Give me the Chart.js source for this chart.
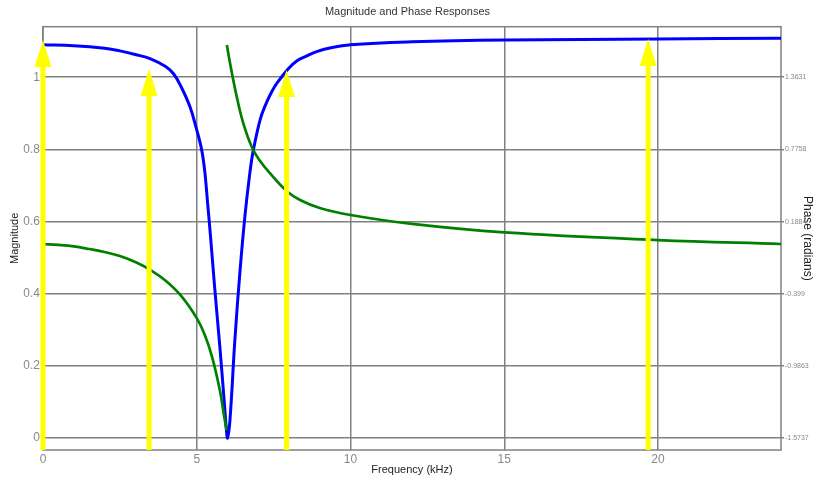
<!DOCTYPE html>
<html>
<head>
<meta charset="utf-8">
<script src="https://cdn.jsdelivr.net/npm/chart.js@4.4.1/dist/chart.umd.min.js"></script>
<style>
  body { margin: 0; background: #fff; }
</style>
</head>
<body>
<canvas id="chart" width="815" height="478"></canvas>
<script>
// magnitude response (blue)
const magFreq = [0, 1, 2, 2.5, 3, 3.5, 4, 4.25, 4.46, 4.78, 5.0, 5.07, 5.14, 5.2, 5.27, 5.35, 5.43, 5.59, 5.76, 5.89, 5.97, 6.0,
  6.08, 6.24, 6.41, 6.57, 6.73, 6.84, 7.06, 7.22, 7.38, 7.54, 7.71, 7.97, 8.25, 8.58, 8.9, 9.33, 10, 12, 15, 20, 24]
const magnitude = [1.090, 1.087, 1.080, 1.073, 1.063, 1.051, 1.029, 1.009, 0.979, 0.918, 0.854, 0.832, 0.807, 0.779, 0.732, 0.654, 0.577, 0.410, 0.244, 0.105, 0.017, 0,
  0.050, 0.272, 0.466, 0.618, 0.737, 0.798, 0.882, 0.920, 0.950, 0.975, 0.995, 1.023, 1.045, 1.059, 1.071, 1.081, 1.090, 1.098, 1.103, 1.106, 1.108]

// phase response (green), null = jump at the notch
const phaseFreq = [0, 0.5, 1, 1.5, 2, 2.5, 3, 3.5, 4, 4.5, 5, 5.25, 5.5, 5.75, 5.9, 5.97, 5.975,
  5.98, 6.08, 6.3, 6.51, 6.79, 7.06, 7.4, 7.92, 8.36, 9, 10, 12, 15, 20, 24]
const phase = [0.006, -0.002, -0.014, -0.035, -0.059, -0.092, -0.141, -0.206, -0.295, -0.418, -0.597, -0.727, -0.914, -1.183, -1.411, -1.509, null,
  1.626, 1.480, 1.205, 0.991, 0.795, 0.681, 0.576, 0.437, 0.364, 0.299, 0.242, 0.169, 0.100, 0.038, 0.006]

// yellow arrows (input tones)
const arrowFreq = [0, 3.45, 7.92, 19.68]
const arrowMag = [1.103, 1.023, 1.020, 1.106]

// tick labels
const freqTicks = [0, 5, 10, 15, 20]
const magTicks = [0, 0.2, 0.4, 0.6, 0.8, 1]
const phaseTicks = [-1.5737, -0.9863, -0.399, 0.1884, 0.7758, 1.3631]

const magMin = -0.033
const magMax = 1.14
const phaseSpan = phaseTicks[5] - phaseTicks[0]
const phaseMin = phaseTicks[0] + magMin * phaseSpan
const phaseMax = phaseTicks[0] + magMax * phaseSpan

Chart.defaults.font.family = "'Liberation Sans', Arial, sans-serif"

const gridColor = '#808080'

const framePlugin = {
  id: 'frame',
  beforeDatasetsDraw(chart) {
    const a = chart.chartArea
    const ctx = chart.ctx
    ctx.save()
    ctx.strokeStyle = gridColor
    ctx.lineWidth = 1.5
    ctx.strokeRect(a.left, a.top, a.right - a.left, a.bottom - a.top)
    ctx.restore()
  }
}

const arrowPlugin = {
  id: 'arrows',
  afterDatasetsDraw(chart) {
    const ctx = chart.ctx
    const x = chart.scales.x
    const y = chart.scales.y
    ctx.save()
    ctx.fillStyle = '#ffff00'
    arrowFreq.forEach((f, i) => {
      const px = x.getPixelForValue(f)
      const top = y.getPixelForValue(arrowMag[i])
      const bottom = y.getPixelForValue(magMin)
      ctx.fillRect(px - 2.5, top + 26, 5, bottom - top - 26)
      ctx.beginPath()
      ctx.moveTo(px, top)
      ctx.lineTo(px - 8.5, top + 27)
      ctx.lineTo(px + 8.5, top + 27)
      ctx.closePath()
      ctx.fill()
    })
    ctx.restore()
  }
}

new Chart(document.getElementById('chart'), {
  type: 'line',
  data: {
    datasets: [
      {
        label: 'Phase',
        data: phaseFreq.map((f, i) => ({ x: f, y: phase[i] })),
        yAxisID: 'y2',
        borderColor: '#008000',
        borderWidth: 2.7,
        pointRadius: 0,
        spanGaps: false,
        tension: 0.4,
        order: 0
      },
      {
        label: 'Magnitude',
        data: magFreq.map((f, i) => ({ x: f, y: magnitude[i] })),
        yAxisID: 'y',
        borderColor: '#0000ff',
        borderWidth: 3,
        pointRadius: 0,
        tension: 0.4,
        order: 1
      }
    ]
  },
  options: {
    responsive: false,
    animation: false,
    layout: { padding: 0 },
    plugins: {
      legend: { display: false },
      tooltip: { enabled: false },
      title: {
        display: true,
        text: 'Magnitude and Phase Responses',
        color: '#333',
        font: { size: 11, weight: 'normal' },
        padding: { top: 5.4, bottom: 8.1 }
      }
    },
    scales: {
      x: {
        type: 'linear',
        min: 0,
        max: 24,
        afterBuildTicks: s => { s.ticks = freqTicks.map(v => ({ value: v })) },
        afterFit: s => { s.height = 28 },
        ticks: { color: '#888', font: { size: 12 }, padding: 2, includeBounds: false },
        grid: { color: gridColor, lineWidth: 1.5, drawTicks: false },
        border: { display: false },
        title: { display: true, text: 'Frequency (kHz)', color: '#222', font: { size: 11 }, padding: { top: 0, bottom: 1.4 } }
      },
      y: {
        position: 'left',
        min: magMin,
        max: magMax,
        afterBuildTicks: s => { s.ticks = magTicks.map(v => ({ value: v })) },
        afterFit: s => { s.width = 43 },
        ticks: { color: '#888', font: { size: 12 }, padding: 3, callback: v => String(Math.round(v * 10) / 10) },
        grid: { color: gridColor, lineWidth: 1.5, drawTicks: false },
        border: { display: false },
        title: { display: true, text: 'Magnitude', color: '#222', font: { size: 11 }, padding: { top: 8.4, bottom: 0 } }
      },
      y2: {
        position: 'right',
        min: phaseMin,
        max: phaseMax,
        afterBuildTicks: s => { s.ticks = phaseTicks.map(v => ({ value: v })) },
        afterFit: s => { s.width = 34 },
        ticks: { color: '#888', font: { size: 7 }, padding: 1, callback: v => String(v) },
        grid: { drawOnChartArea: false, color: gridColor, tickLength: 3, lineWidth: 1.5 },
        border: { display: false },
        title: { display: true, text: 'Phase (radians)', color: '#222', font: { size: 12 }, padding: { top: 0, bottom: 0 } }
      }
    }
  },
  plugins: [framePlugin, arrowPlugin]
})
</script>
</body>
</html>
